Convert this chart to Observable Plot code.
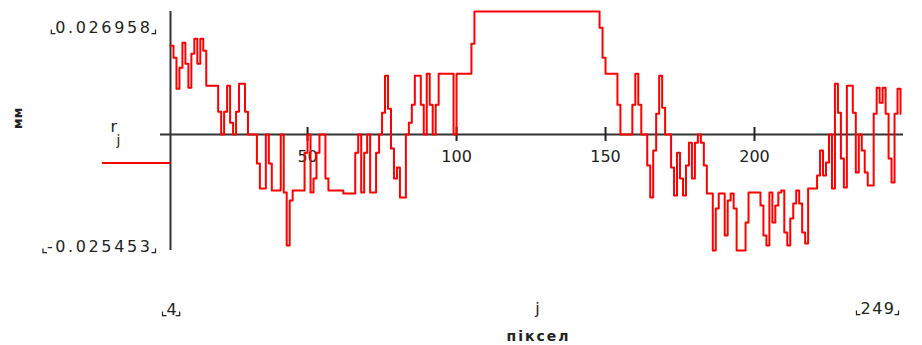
<!DOCTYPE html>
<html><head><meta charset="utf-8">
<script src="https://cdn.jsdelivr.net/npm/d3@7"></script>
<script src="https://cdn.jsdelivr.net/npm/@observablehq/plot@0.6"></script>
<style>body{margin:0;background:#fff;} svg{display:block;}</style>
</head><body>
<script>
// ---- data ----
const jStart = 4, jEnd = 249;
const jValues = d3.range(jStart, jEnd + 1);
const rValues = [
  0.01945, 0.01682, 0.01003, 0.01463, 0.02011, 0.01551, 0.01025, 0.01770, 0.02098, 0.01551,
  0.02098, 0.01835, 0.01069, 0.01069, 0.01069, 0.01069, 0.00499, 0, 0.00499, 0.01069,
  0.00258, 0, 0.00499, 0.01113, 0.01113, 0.00499, 0, 0, 0, -0.00639,
  -0.01187, -0.01187, 0, -0.00639, -0.01231, -0.01231, -0.01231, 0, -0.01275, -0.02435,
  -0.01450, -0.01231, -0.01231, -0.01231, -0.01231, -0.00399, 0, -0.01275, -0.00968, -0.00399,
  0, 0, -0.00968, -0.01231, -0.01231, -0.01231, -0.01231, -0.01231, -0.01297, -0.01297,
  -0.01297, -0.01297, -0.00399, 0, -0.01275, -0.00399, 0, -0.01275, -0.01275, -0.00399,
  0, 0.00477, 0.01288, 0.00565, -0.00311, -0.00968, -0.00727, -0.01384, -0.01384, 0,
  0.00258, 0.00653, 0.01288, 0.01288, 0.00653, 0, 0.01332, 0.00653, 0, 0.00653,
  0.01332, 0.01332, 0.01332, 0.01332, 0.01332, 0, 0.01332, 0.01332, 0.01332, 0.01332,
  0.01332, 0.01989, 0.026958, 0.026958, 0.026958, 0.026958, 0.026958, 0.026958, 0.026958, 0.026958,
  0.026958, 0.026958, 0.026958, 0.026958, 0.026958, 0.026958, 0.026958, 0.026958, 0.026958, 0.026958,
  0.026958, 0.026958, 0.026958, 0.026958, 0.026958, 0.026958, 0.026958, 0.026958, 0.026958, 0.026958,
  0.026958, 0.026958, 0.026958, 0.026958, 0.026958, 0.026958, 0.026958, 0.026958, 0.026958, 0.026958,
  0.026958, 0.026958, 0.026958, 0.026958, 0.02339, 0.01682, 0.01332, 0.01332, 0.01332, 0.01332,
  0.00653, 0, 0, 0, 0, 0.00653, 0.01332, 0.00653, 0, 0,
  -0.00683, -0.01384, -0.00355, 0.00456, 0.01288, 0.00587, 0, 0, -0.00727, -0.01340,
  -0.00399, -0.00968, -0.01340, -0.00683, -0.00180, -0.00968, -0.00180, 0, -0.00180, -0.00683,
  -0.01297, -0.01297, -0.025453, -0.01625, -0.01297, -0.01297, -0.02216, -0.01450, -0.01297, -0.01625,
  -0.025453, -0.025453, -0.025453, -0.01932, -0.01275, -0.01275, -0.01275, -0.01275, -0.01559, -0.02216,
  -0.02435, -0.01275, -0.01932, -0.01559, -0.01275, -0.01231, -0.02151, -0.02435, -0.01844, -0.01516,
  -0.01231, -0.01516, -0.02151, -0.02392, -0.01187, -0.01187, -0.01187, -0.00902, -0.00355, -0.00902,
  -0.00618, 0, -0.01187, 0.01113, 0.00477, -0.00530, -0.01165, 0.01069, 0.01069, 0.00477,
  -0.00837, 0, -0.00355, -0.00837, -0.01121, -0.01121, 0.00456, 0.01025, 0.00696, 0.01025,
  0.00456, -0.00530, -0.01056, 0.00456, 0.01003, 0.00456
];
const yMax = 0.026958, yMin = -0.025453;
const xTicks = [50, 100, 150, 200];
const yTopLabel = "0.026958", yBottomLabel = "-0.025453";
const xLeftLabel = "4", xRightLabel = "249";
const seriesName = "r", seriesIndex = "j";
const xVarLabel = "j", xUnitLabel = "піксел", yUnitLabel = "мм";

const data = jValues.map((j, i) => ({j, r: rValues[i]}));
const frameH = 345 - 11 - 95;
const tickHalf = 7 / frameH * (yMax - yMin);
const T = {fill: "#222", lineAnchor: "middle"};

const chart = Plot.plot({
  width: 922, height: 345,
  marginLeft: 170, marginRight: 22, marginTop: 11, marginBottom: 95,
  x: {domain: [jStart, jEnd], axis: null},
  y: {domain: [yMin, yMax], axis: null},
  style: {fontFamily: "DejaVu Sans", fontSize: "16px", color: "#222", background: "white", overflow: "visible"},
  marks: [
    Plot.ruleY([0], {stroke: "#333", strokeWidth: 2, insetLeft: -10, insetRight: -3}),
    Plot.ruleX([jStart], {stroke: "#333", strokeWidth: 2}),
    Plot.ruleX(xTicks, {y1: -tickHalf, y2: tickHalf, stroke: "#222", strokeWidth: 2}),
    Plot.text(xTicks, {x: d => d, y: 0, dy: 22, text: d => String(d), ...T}),
    Plot.line(data, {x: "j", y: "r", curve: "step-after", stroke: "#ff0000", strokeWidth: 2}),
    Plot.text([yTopLabel], {frameAnchor: "top-left", dx: -18, dy: 16, textAnchor: "end", ...T}),
    Plot.text([yBottomLabel], {frameAnchor: "bottom-left", dx: -18, dy: -4, textAnchor: "end", ...T}),
    Plot.text([xLeftLabel], {frameAnchor: "bottom-left", dx: -4, dy: 59, ...T}),
    Plot.text([xRightLabel], {frameAnchor: "bottom-right", dx: -5, dy: 58, ...T}),
    Plot.text([xVarLabel], {frameAnchor: "bottom", dx: 2, dy: 58, ...T}),
    Plot.text([xUnitLabel], {frameAnchor: "bottom", dx: 3, dy: 86, fontWeight: "bold", fontSize: 14, ...T}),
    Plot.text([yUnitLabel], {frameAnchor: "left", dx: -153, dy: -2, rotate: -90, fontWeight: "bold", fontSize: 13, ...T}),
    Plot.text([seriesName], {frameAnchor: "left", dx: -60, dy: -4, fontSize: 16, ...T}),
    Plot.text([seriesIndex], {frameAnchor: "left", dx: -54, dy: 10, fontSize: 14, ...T})
  ]
});
document.body.appendChild(chart);

// decorations: letter spacing, Mathcad-style corner marks, trace legend line
const svg = d3.select(chart);
const spaced = {[yTopLabel]: 2.6, [yBottomLabel]: 2.6, [xRightLabel]: 1.5, [xUnitLabel]: 2};
svg.selectAll("text").each(function() {
  const t = this.textContent;
  if (spaced[t] != null) this.setAttribute("letter-spacing", spaced[t]);
});
const cornered = [yTopLabel, yBottomLabel, xLeftLabel, xRightLabel];
const svgRect = chart.getBoundingClientRect();
const boxes = [];
svg.selectAll("text").each(function() {
  if (!cornered.includes(this.textContent)) return;
  const r = this.getBoundingClientRect();
  boxes.push({x: r.left - svgRect.left, y: r.top - svgRect.top, w: r.width, h: r.height});
});
const deco = svg.append("g").attr("fill", "none").attr("stroke", "#222").attr("stroke-width", 1.2);
for (const b of boxes) {
  const x0 = b.x - 4, x1 = b.x + b.w + 3, yb = b.y + b.h - 3;
  deco.append("path").attr("d", `M${x0},${yb-4}V${yb}H${x0+4}`);
  deco.append("path").attr("d", `M${x1-4},${yb}H${x1}V${yb-4}`);
}
svg.append("line").attr("x1", 102).attr("x2", 170).attr("y1", 163).attr("y2", 163)
  .attr("stroke", "#ff0000").attr("stroke-width", 2);
</script>
</body></html>
